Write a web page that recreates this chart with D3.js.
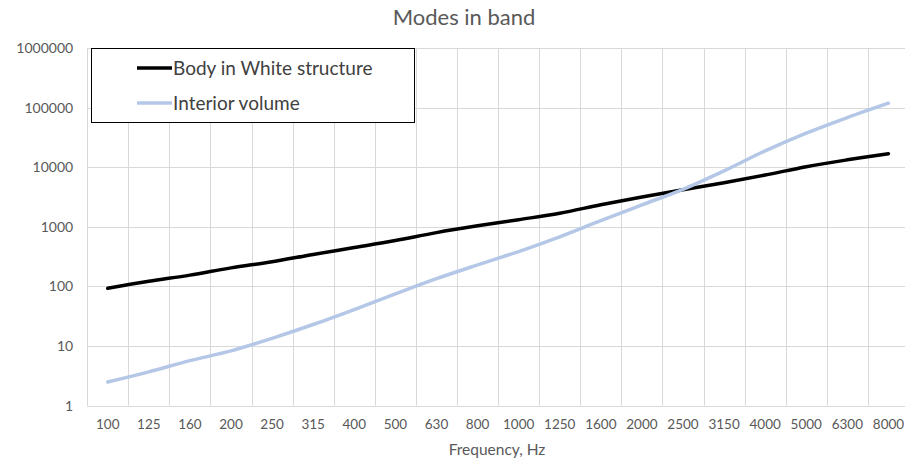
<!DOCTYPE html>
<html>
<head>
<meta charset="utf-8">
<script src="https://cdn.jsdelivr.net/npm/d3@7/dist/d3.min.js"></script>
<style>
  html, body { margin: 0; padding: 0; background: #fff; }
  svg { display: block; }
  text { font-family: Lato, "Liberation Sans", sans-serif; }
</style>
</head>
<body>
<svg id="chart" width="905" height="460"></svg>
<script>
// One-third octave band centre frequencies (Hz)
const bands = ["100", "125", "160", "200", "250", "315", "400", "500", "630", "800",
               "1000", "1250", "1600", "2000", "2500", "3150", "4000", "5000", "6300", "8000"];

// Number of modes per band
const bodyInWhite = [93, 122, 155, 205, 260, 345, 450, 590, 800, 1040,
                     1320, 1690, 2350, 3170, 4200, 5500, 7400, 10200, 13300, 16900];
const interiorVolume = [2.5, 3.7, 5.7, 8.3, 13.5, 23, 41, 75, 135, 230,
                        385, 680, 1270, 2330, 4270, 8700, 18800, 37200, 68000, 118600];

const yTicks = [1, 10, 100, 1000, 10000, 100000, 1000000];

const seriesNames = ["Body in White structure", "Interior volume"];
const seriesColors = ["#000000", "#b4c7e7"];

const svg = d3.select("#chart");
const plot = { left: 87.2, right: 909, top: 48, bottom: 405.7 };

const x = d3.scaleBand().domain(bands).range([plot.left, plot.right]).padding(0);
const y = d3.scaleLog().domain([1, 1000000]).range([plot.bottom, plot.top]);

const grid = "#d9d9d9";
const textColor = "#595959";

// Horizontal gridlines
svg.append("g")
  .selectAll("line")
  .data(yTicks)
  .join("line")
  .attr("x1", plot.left).attr("x2", plot.right)
  .attr("y1", d => Math.round(y(d)) + 0.5).attr("y2", d => Math.round(y(d)) + 0.5)
  .attr("stroke", grid).attr("stroke-width", 1);

// Vertical gridlines at band boundaries
const boundaries = bands.map(b => x(b)).concat([x(bands[bands.length - 1]) + x.bandwidth()]);
svg.append("g")
  .selectAll("line")
  .data(boundaries)
  .join("line")
  .attr("x1", d => Math.round(d) + 0.5).attr("x2", d => Math.round(d) + 0.5)
  .attr("y1", plot.top).attr("y2", plot.bottom)
  .attr("stroke", grid).attr("stroke-width", 1);

// Y axis labels
const yAxis = d3.axisLeft(y).tickValues(yTicks).tickFormat(d3.format("d")).tickSize(0).tickPadding(14);
const gy = svg.append("g").attr("transform", `translate(${plot.left},0)`).call(yAxis);
gy.select(".domain").remove();
gy.selectAll("text").attr("fill", textColor).style("font-size", "14px")
  .style("font-family", "Lato, 'Liberation Sans', sans-serif");

// X axis labels
const xAxis = d3.axisBottom(x).tickSize(0).tickPadding(14);
const gx = svg.append("g").attr("transform", `translate(0,${plot.bottom})`).call(xAxis);
gx.select(".domain").remove();
gx.selectAll("text").attr("fill", textColor).style("font-size", "13.5px")
  .style("font-family", "Lato, 'Liberation Sans', sans-serif");

// Series lines
const line = d3.line()
  .x((d, i) => x(bands[i]) + x.bandwidth() / 2)
  .y(d => y(d))
  .curve(d3.curveCatmullRom.alpha(0.5));

[bodyInWhite, interiorVolume].forEach((vals, k) => {
  svg.append("path")
    .datum(vals)
    .attr("d", line)
    .attr("fill", "none")
    .attr("stroke", seriesColors[k])
    .attr("stroke-width", 3.5)
    .attr("stroke-linecap", "round")
    .attr("stroke-linejoin", "round");
});

// Title
svg.append("text")
  .attr("x", 464).attr("y", 25)
  .attr("text-anchor", "middle")
  .attr("fill", textColor)
  .style("font-size", "22px")
  .text("Modes in band");

// Axis title
svg.append("text")
  .attr("x", 497).attr("y", 455)
  .attr("text-anchor", "middle")
  .attr("fill", textColor)
  .style("font-size", "15.5px")
  .text("Frequency, Hz");

// Legend
const legend = svg.append("g");
legend.append("rect")
  .attr("x", 91.5).attr("y", 48.5).attr("width", 323).attr("height", 74)
  .attr("fill", "#fff").attr("stroke", "#000").attr("stroke-width", 1);
seriesNames.forEach((name, k) => {
  const ly = 68 + k * 35;
  legend.append("line")
    .attr("x1", 137).attr("x2", 172).attr("y1", ly).attr("y2", ly)
    .attr("stroke", seriesColors[k]).attr("stroke-width", 3.5);
  legend.append("text")
    .attr("x", 173).attr("y", ly).attr("dy", "0.35em")
    .attr("fill", "#404040")
    .style("font-size", "19px")
    .text(name);
});
</script>
</body>
</html>
